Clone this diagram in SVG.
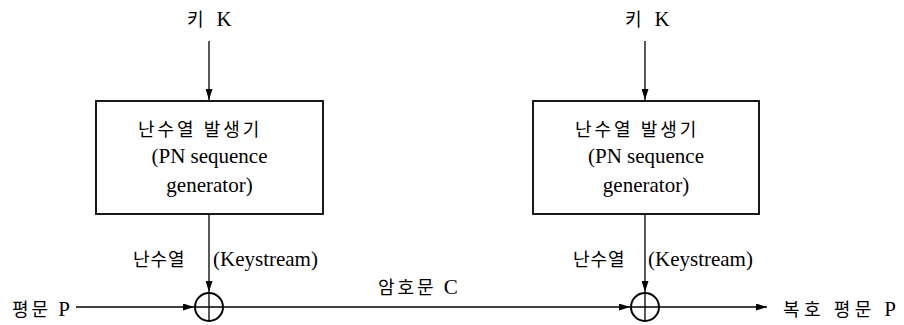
<svg xmlns="http://www.w3.org/2000/svg" width="904" height="325" viewBox="0 0 904 325">
<defs>
<style>
.t{font-family:"Liberation Serif","Noto Sans CJK KR",serif;font-size:21px;fill:#000}
.k{font-family:"Noto Sans CJK KR","Liberation Serif",sans-serif;font-size:18px;fill:#000;letter-spacing:3px}
.kw{font-family:"Noto Sans CJK KR","Liberation Serif",sans-serif;font-size:18px;fill:#000;letter-spacing:4.5px}
.kl{font-family:"Noto Sans CJK KR","Liberation Serif",sans-serif;font-size:18px;fill:#000;letter-spacing:1px}
.box{fill:#fff;stroke:#000;stroke-width:1.8}
.ln{stroke:#000;stroke-width:1.3;fill:none}
.x{fill:#fff;stroke:#000;stroke-width:2}
</style>
<marker id="ah" markerWidth="11" markerHeight="7" refX="11" refY="3.5" orient="auto" markerUnits="userSpaceOnUse">
<path d="M0,0 L11,3.5 L0,7 Z" fill="#000"/>
</marker>
</defs>
<rect width="904" height="325" fill="#fff"/>
<g id="connectors">
<line class="ln" x1="209" y1="41" x2="209" y2="100" marker-end="url(#ah)"/>
<line class="ln" x1="645" y1="41" x2="645" y2="100" marker-end="url(#ah)"/>
<line class="ln" x1="209" y1="214" x2="209" y2="292" marker-end="url(#ah)"/>
<line class="ln" x1="645" y1="214" x2="645" y2="292" marker-end="url(#ah)"/>
<line class="ln" x1="76" y1="307" x2="194" y2="307" marker-end="url(#ah)"/>
<line class="ln" x1="224" y1="307" x2="630" y2="307" marker-end="url(#ah)"/>
<line class="ln" x1="660" y1="307" x2="767" y2="307" marker-end="url(#ah)"/>
<text class="kl" x="133" y="266">난수열</text>
<text class="t" x="213" y="266">(Keystream)</text>
<text class="kl" x="573" y="266">난수열</text>
<text class="t" x="648" y="266">(Keystream)</text>
<text x="378" y="294"><tspan class="k">암호문 </tspan><tspan class="t">C</tspan></text>
</g>
<g id="key1">
<text x="187" y="26"><tspan class="kw">키 </tspan><tspan class="t">K</tspan></text>
</g>
<g id="key2">
<text x="625" y="26"><tspan class="kw">키 </tspan><tspan class="t">K</tspan></text>
</g>
<g id="gen1">
<rect class="box" x="96" y="101" width="227" height="113"/>
<text class="k" x="138" y="136">난수열 발생기</text>
<text class="t" x="209.5" y="163" text-anchor="middle">(PN sequence</text>
<text class="t" x="209.5" y="192" text-anchor="middle">generator)</text>
</g>
<g id="gen2">
<rect class="box" x="533" y="101" width="226" height="113"/>
<text class="k" x="575" y="136">난수열 발생기</text>
<text class="t" x="646" y="163" text-anchor="middle">(PN sequence</text>
<text class="t" x="646" y="192" text-anchor="middle">generator)</text>
</g>
<g id="xor1">
<circle class="x" cx="209" cy="307" r="14"/>
<path class="ln" d="M195,307 H223 M209,293 V321" stroke-width="2"/>
</g>
<g id="xor2">
<circle class="x" cx="645" cy="307" r="14"/>
<path class="ln" d="M631,307 H659 M645,293 V321" stroke-width="2"/>
</g>
<g id="plain">
<text x="12" y="316"><tspan class="k">평문 </tspan><tspan class="t">P</tspan></text>
</g>
<g id="decrypted">
<text x="783" y="316"><tspan class="kw">복호 평문 </tspan><tspan class="t">P</tspan></text>
</g>
</svg>
